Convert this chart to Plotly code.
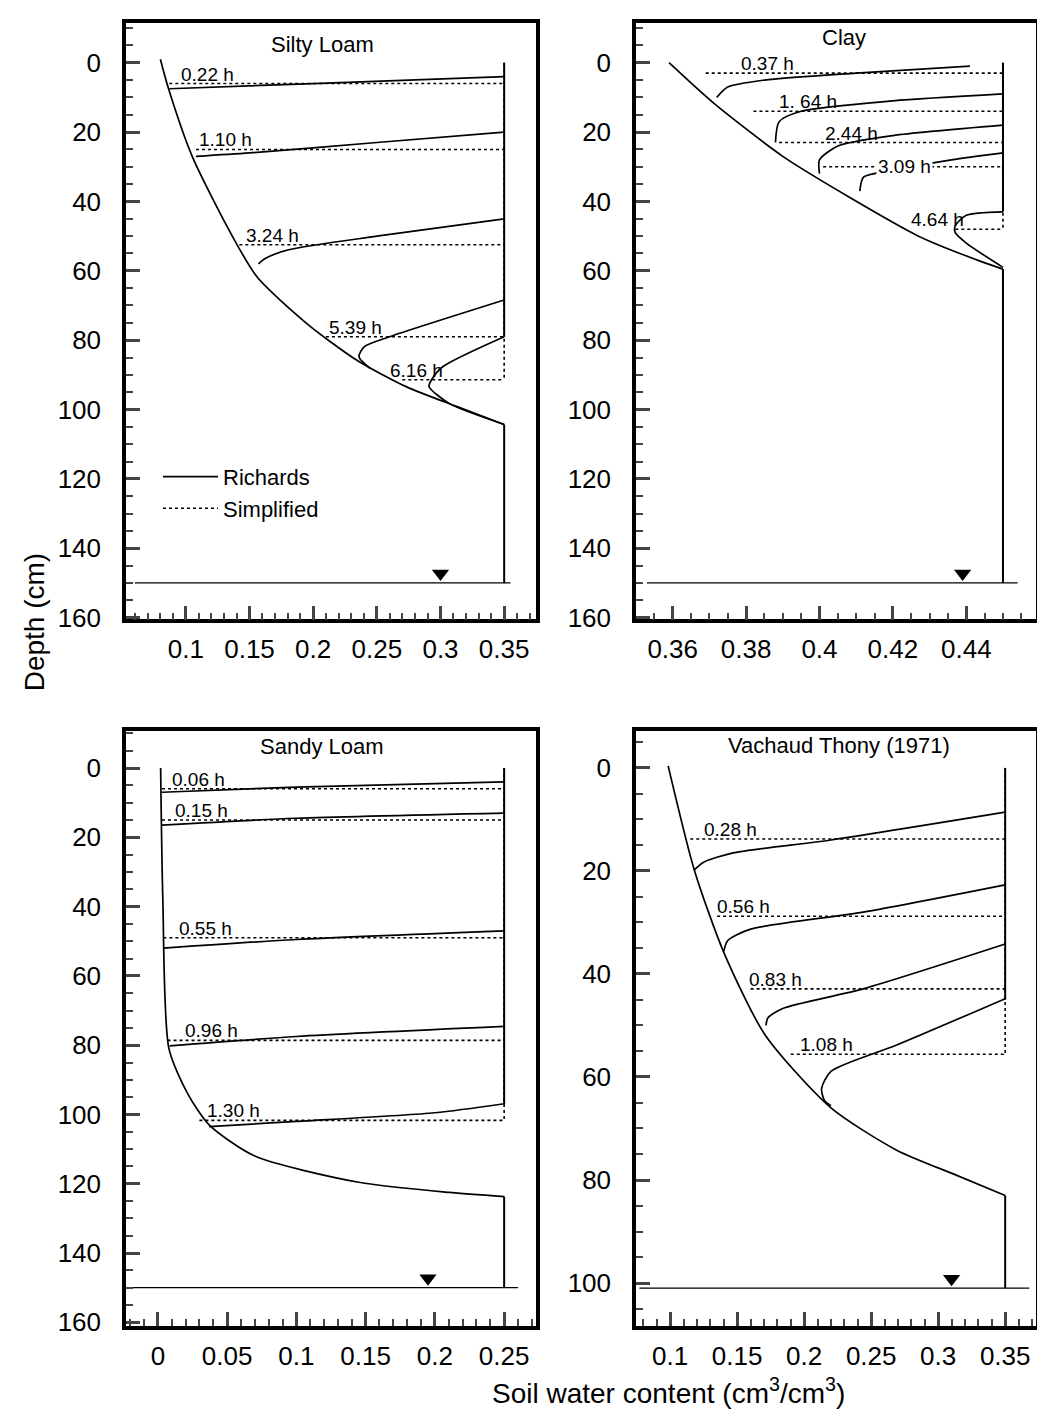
import plotly.graph_objects as go
from plotly.subplots import make_subplots

# ---- Silty Loam (panel 1)
sl_init_x = [0.080, 0.086, 0.105, 0.135, 0.156, 0.195, 0.234, 0.273, 0.3125, 0.35]
sl_init_d = [-1, 7, 27, 49, 61.8, 75.2, 85.7, 93.4, 99.1, 104.3]
sl_times = ["0.22 h", "1.10 h", "3.24 h", "5.39 h", "6.16 h"]
sl_lab_x = [0.095, 0.109, 0.146, 0.211, 0.259]
sl_rich_x = [[0.35, 0.2, 0.087],
             [0.35, 0.25, 0.15, 0.108],
             [0.35, 0.25, 0.18, 0.162, 0.157],
             [0.35, 0.26, 0.24, 0.236, 0.245],
             [0.35, 0.302, 0.293, 0.291, 0.307, 0.35]]
sl_rich_d = [[4, 6, 7.5],
             [20, 23, 26, 27],
             [45, 50, 54, 56.5, 58],
             [68.4, 79, 81.9, 84.8, 88.2],
             [79, 87.6, 91.4, 93.4, 98.3, 104.3]]
sl_front = [6, 25, 52.5, 79, 91.4]
sl_front_left = [0.087, 0.108, 0.142, 0.21, 0.27]

# ---- Clay (panel 2)
cl_init_x = [0.359, 0.371, 0.39, 0.4085, 0.427, 0.4445, 0.45]
cl_init_d = [0, 11.5, 27, 39, 50, 57.5, 59.5]
cl_times = ["0.37 h", "1. 64 h", "2.44 h", "3.09 h", "4.64 h"]
cl_lab_x = [0.378, 0.3885, 0.401, 0.4155, 0.4245]
cl_rich_x = [[0.441, 0.41, 0.385, 0.375, 0.372],
             [0.45, 0.42, 0.395, 0.389, 0.388],
             [0.45, 0.42, 0.405, 0.40, 0.40],
             [0.45, 0.436, 0.42, 0.412, 0.411],
             [0.45, 0.44, 0.437, 0.437, 0.44, 0.45]]
cl_rich_d = [[1, 3, 5, 7, 10],
             [9, 11, 14, 17, 23],
             [18, 21, 24, 28, 32],
             [26, 28, 31, 33, 37],
             [43, 44, 47, 49, 52, 59]]
cl_front = [3, 14, 23, 30, 48]
cl_front_left = [0.369, 0.382, 0.389, 0.401, 0.437]

# ---- Sandy Loam (panel 3)
sa_init_x = [0.002, 0.0036, 0.008, 0.0215, 0.037, 0.07, 0.144, 0.21, 0.25]
sa_init_d = [0, 38, 81, 94, 103, 112, 119.5, 122.5, 123.7]
sa_times = ["0.06 h", "0.15 h", "0.55 h", "0.96 h", "1.30 h"]
sa_lab_x = [0.009, 0.011, 0.014, 0.018, 0.034]
sa_rich_x = [[0.25, 0.1, 0.003],
             [0.25, 0.1, 0.003],
             [0.25, 0.1, 0.004],
             [0.25, 0.1, 0.0085],
             [0.25, 0.2, 0.1, 0.037]]
sa_rich_d = [[4, 5.5, 7],
             [13, 14.5, 16.5],
             [47, 49.5, 52],
             [74.6, 77.5, 80.2],
             [96.9, 99.5, 102, 103.5]]
sa_front = [6, 15, 49, 78.6, 101.7]
sa_front_left = [0.003, 0.003, 0.004, 0.007, 0.03]

# ---- Vachaud Thony (panel 4)
vt_init_x = [0.0985, 0.118, 0.14, 0.171, 0.22, 0.269, 0.313, 0.35]
vt_init_d = [-0.4, 19.8, 35.8, 51.9, 66, 74.2, 79, 83]
vt_times = ["0.28 h", "0.56 h", "0.83 h", "1.08 h"]
vt_lab_x = [0.124, 0.1335, 0.1575, 0.1955]
vt_rich_x = [[0.35, 0.22, 0.147, 0.125, 0.118],
             [0.35, 0.244, 0.16, 0.143, 0.14],
             [0.35, 0.244, 0.184, 0.173, 0.1715],
             [0.35, 0.269, 0.22, 0.213, 0.215, 0.22]]
vt_rich_d = [[8.6, 14, 16.5, 18.3, 19.8],
             [22.7, 28, 31.3, 33.5, 35.6],
             [34.2, 42.9, 46.7, 48.5, 50],
             [44.8, 53.8, 58.9, 62.2, 64.5, 65.6]]
vt_front = [13.8, 28.8, 42.9, 55.6]
vt_front_left = [0.115, 0.135, 0.16, 0.19]

panels = [
    dict(name="Silty Loam", ix=sl_init_x, idp=sl_init_d, times=sl_times, lx=sl_lab_x, rx=sl_rich_x,
         rd=sl_rich_d, front=sl_front, fl=sl_front_left, sat=0.35, wt=150, tri=0.30, wt_x=[0.06, 0.355],
         xr=[0.053, 0.375], yr=[160.5, -11.5], dt=0.05, mdt=0.01, tick0=0.1,
         title_xy=(0.207, -1), vsolid=[[0, 79]]),
    dict(name="Clay", ix=cl_init_x, idp=cl_init_d, times=cl_times, lx=cl_lab_x, rx=cl_rich_x,
         rd=cl_rich_d, front=cl_front, fl=cl_front_left, sat=0.45, wt=150, tri=0.439, wt_x=[0.353, 0.454],
         xr=[0.35, 0.459], yr=[160.5, -11.5], dt=0.02, mdt=0.005, tick0=0.36,
         title_xy=(0.4067, -3), vsolid=[[0, 43]]),
    dict(name="Sandy Loam", ix=sa_init_x, idp=sa_init_d, times=sa_times, lx=sa_lab_x, rx=sa_rich_x,
         rd=sa_rich_d, front=sa_front, fl=sa_front_left, sat=0.25, wt=150, tri=0.195, wt_x=[-0.02, 0.26],
         xr=[-0.023, 0.273], yr=[161, -10.6], dt=0.05, mdt=0.01, tick0=0,
         title_xy=(0.1185, -2), vsolid=[[0, 97]]),
    dict(name="Vachaud Thony (1971)", ix=vt_init_x, idp=vt_init_d, times=vt_times, lx=vt_lab_x, rx=vt_rich_x,
         rd=vt_rich_d, front=vt_front, fl=vt_front_left, sat=0.35, wt=101, tri=0.31, wt_x=[0.077, 0.368],
         xr=[0.0745, 0.373], yr=[108.3, -7.1], dt=0.05, mdt=0.01, tick0=0.1,
         title_xy=(0.226, -1.5), vsolid=[[0, 45]]),
]

fig = make_subplots(rows=2, cols=2, horizontal_spacing=0.1, vertical_spacing=0.08)
line_kw = dict(color="black", width=1.7, shape="spline", smoothing=0.7)
dot_kw = dict(color="black", width=1.6, dash="dot")

for k, p in enumerate(panels):
    r, c = k // 2 + 1, k % 2 + 1
    first = k == 0
    xs = "x" if k == 0 else "x%d" % (k + 1)
    ys = "y" if k == 0 else "y%d" % (k + 1)
    # simplified: dotted fronts and dotted vertical
    for j, d in enumerate(p["front"]):
        fig.add_trace(go.Scatter(x=[p["fl"][j], p["sat"]], y=[d, d], mode="lines", line=dot_kw,
                                 name="Simplified", showlegend=first and j == 0, legendrank=2), r, c)
    fig.add_trace(go.Scatter(x=[p["sat"], p["sat"]], y=[0, p["front"][-1]], mode="lines", line=dot_kw,
                             showlegend=False), r, c)
    # initial profile and saturated column below it
    fig.add_trace(go.Scatter(x=p["ix"], y=p["idp"], mode="lines", line=line_kw,
                             name="Richards", showlegend=first, legendrank=1), r, c)
    fig.add_trace(go.Scatter(x=[p["sat"], p["sat"]], y=[p["idp"][-1], p["wt"]], mode="lines",
                             line=dict(color="black", width=2), showlegend=False), r, c)
    for seg in p["vsolid"]:
        fig.add_trace(go.Scatter(x=[p["sat"], p["sat"]], y=seg, mode="lines",
                                 line=dict(color="black", width=2), showlegend=False), r, c)
    for j in range(len(p["rx"])):
        fig.add_trace(go.Scatter(x=p["rx"][j], y=p["rd"][j], mode="lines", line=line_kw,
                                 showlegend=False), r, c)
    # water table
    fig.add_trace(go.Scatter(x=p["wt_x"], y=[p["wt"], p["wt"]], mode="lines",
                             line=dict(color="black", width=1.3), showlegend=False), r, c)
    span = p["yr"][0] - p["yr"][1]
    fig.add_trace(go.Scatter(x=[p["tri"]], y=[p["wt"] - span * 0.016], mode="markers",
                             marker=dict(symbol="triangle-down", size=15, color="black"),
                             showlegend=False), r, c)
    # labels
    for j, t in enumerate(p["times"]):
        white = (k == 1 and j == 3)
        fig.add_annotation(x=p["lx"][j], y=p["front"][j], xref=xs, yref=ys,
                           text=t, showarrow=False, xanchor="left",
                           yanchor="middle" if white else "bottom", yshift=0 if white else -3,
                           font=dict(size=19, color="black"),
                           bgcolor="white" if white else "rgba(255,255,255,0)")
    fig.add_annotation(x=p["title_xy"][0], y=p["title_xy"][1], xref=xs, yref=ys, text=p["name"],
                       showarrow=False, font=dict(size=22, color="black"), yanchor="bottom")
    fig.update_xaxes(range=p["xr"], tick0=p["tick0"], dtick=p["dt"], ticks="inside", ticklen=14,
                     tickwidth=2.5, ticklabelstandoff=4,
                     minor=dict(ticks="inside", dtick=p["mdt"], ticklen=7, tickwidth=1.5, tick0=p["tick0"]),
                     showline=True, linewidth=3.5, linecolor="black", mirror=True, showgrid=False,
                     zeroline=False, tickfont=dict(size=26, color="black"), row=r, col=c)
    fig.update_yaxes(range=p["yr"], dtick=20, tick0=0, ticks="inside", ticklen=14, tickwidth=2.5,
                     ticklabelstandoff=16,
                     minor=dict(ticks="inside", dtick=5, ticklen=7, tickwidth=1.5),
                     showline=True, linewidth=3.5, linecolor="black", mirror=True, showgrid=False,
                     zeroline=False, tickfont=dict(size=26, color="black"), row=r, col=c)

dom_x = [[118 / 1045, 528 / 1045], [628 / 1045, 1028 / 1045]]
dom_y = [[1 - 617 / 1417, 1 - 15 / 1417], [1 - 1330 / 1417, 1 - 730 / 1417]]
for k in range(4):
    r, c = k // 2, k % 2
    fig.layout["xaxis" if k == 0 else "xaxis%d" % (k + 1)].domain = dom_x[c]
    fig.layout["yaxis" if k == 0 else "yaxis%d" % (k + 1)].domain = dom_y[r]

fig.add_annotation(x=26 / 1045, y=1 - 620 / 1417, xref="paper", yref="paper", text="Depth (cm)",
                   textangle=-90, showarrow=False, xanchor="center", yanchor="middle",
                   font=dict(size=28, color="black"))
fig.add_annotation(x=660 / 1045, y=1 - 1396 / 1417, xref="paper", yref="paper",
                   text="Soil water content (cm<sup>3</sup>/cm<sup>3</sup>)",
                   showarrow=False, xanchor="center", yanchor="middle",
                   font=dict(size=28, color="black"))

fig.update_layout(width=1045, height=1417, margin=dict(l=0, r=0, t=0, b=0),
                  plot_bgcolor="white", paper_bgcolor="white",
                  font=dict(family="Liberation Sans, Arial, sans-serif", color="black"),
                  legend=dict(x=150 / 1045, y=1 - 452 / 1417, xanchor="left", yanchor="top",
                              font=dict(size=22), bgcolor="rgba(0,0,0,0)", tracegroupgap=10,
                              itemwidth=55))
fig.write_html("out.html")
